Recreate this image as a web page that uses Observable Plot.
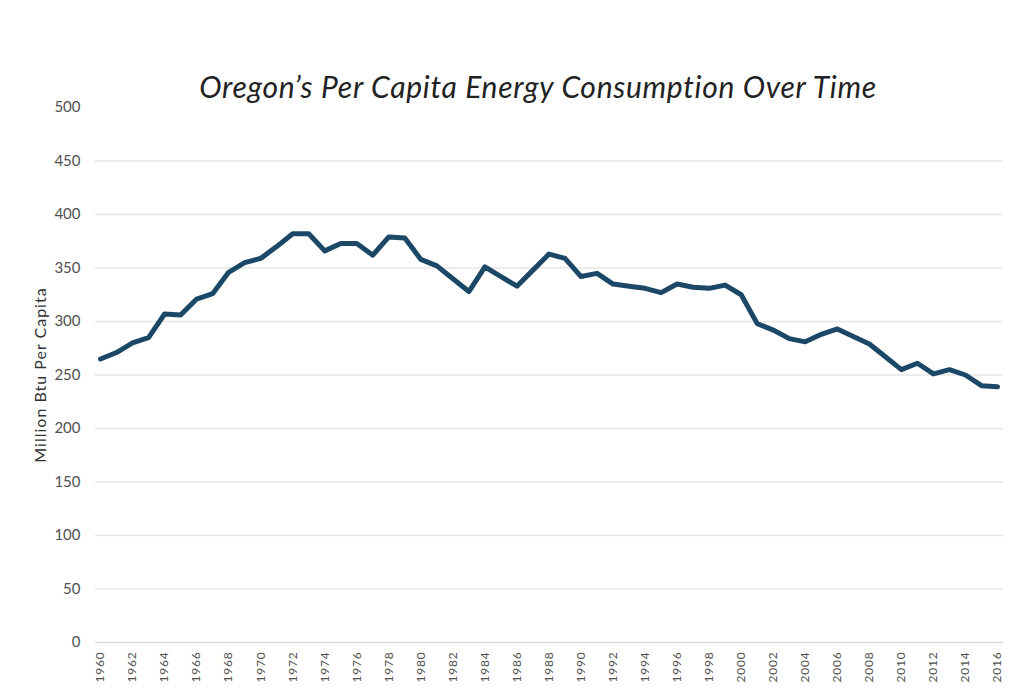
<!DOCTYPE html>
<html>
<head>
<meta charset="utf-8">
<script src="https://cdn.jsdelivr.net/npm/d3@7"></script>
<script src="https://cdn.jsdelivr.net/npm/@observablehq/plot@0.6"></script>
<style>
  html, body { margin: 0; padding: 0; background: #fff; }
  #wrap { position: relative; width: 1024px; height: 698px; }
  #title {
    position: absolute; left: 0; top: 68px; width: 1076px; text-align: center;
    font-family: Lato, "Open Sans", sans-serif; font-style: italic; font-size: 30px;
    line-height: 1.2; color: #222; letter-spacing: 0.7px;
  }
  svg { display: block; }
  .xt text { letter-spacing: 0.8px; }
  .yl text { letter-spacing: 1px; }
</style>
</head>
<body>
<div id="wrap">
  <div id="chart"></div>
  <div id="title">Oregon’s Per Capita Energy Consumption Over Time</div>
</div>
<script>
const years = [1960,1961,1962,1963,1964,1965,1966,1967,1968,1969,
  1970,1971,1972,1973,1974,1975,1976,1977,1978,1979,
  1980,1981,1982,1983,1984,1985,1986,1987,1988,1989,
  1990,1991,1992,1993,1994,1995,1996,1997,1998,1999,
  2000,2001,2002,2003,2004,2005,2006,2007,2008,2009,
  2010,2011,2012,2013,2014,2015,2016];
const btuPerCapita = [265,271,280,285,307,306,321,326,346,355,
  359,370,382,382,366,373,373,362,379,378,
  358,352,340,328,351,342,333,348,363,359,
  342,345,335,333,331,327,335,332,331,334,
  325,298,292,284,281,288,293,286,279,267,
  255,261,251,255,250,240,239];
const xTicks = [1960,1962,1964,1966,1968,1970,1972,1974,1976,1978,1980,1982,1984,1986,1988,
  1990,1992,1994,1996,1998,2000,2002,2004,2006,2008,2010,2012,2014,2016];
const yTicks = [0,50,100,150,200,250,300,350,400,450,500];
const gridValues = [50,100,150,200,250,300,350,400,450];
const yLabel = "Million Btu Per Capita";

const data = years.map((y, i) => ({year: y, value: btuPerCapita[i]}));

const chart = Plot.plot({
  width: 1024,
  height: 698,
  marginTop: 107,
  marginBottom: 56,
  marginLeft: 95,
  marginRight: 21,
  style: {fontFamily: "Lato, 'Open Sans', sans-serif", fontSize: "12px", color: "#555", background: "#fff"},
  x: {domain: [1960, 2016], insetLeft: 5, insetRight: 6},
  y: {domain: [0, 500]},
  marks: [
    Plot.ruleY(gridValues, {stroke: "#e6e6e6", strokeWidth: 1.5}),
    Plot.ruleY([0], {stroke: "#dcdcdc", strokeWidth: 1.5}),
    Plot.axisY({ticks: yTicks, tickSize: 0, tickPadding: 15, label: null, fill: "#505050", fontSize: 15}),
    Plot.axisX({ticks: xTicks, tickFormat: d => String(d), tickRotate: -90, tickSize: 0, tickPadding: 9, label: null, fill: "#505050", fontSize: 12, className: "xt"}),
    Plot.text([yLabel], {frameAnchor: "left", textAnchor: "middle", text: d => d, rotate: -90, dx: -55, fontSize: 16, fill: "#333", className: "yl"}),
    Plot.line(data, {x: "year", y: "value", stroke: "#1c4868", strokeWidth: 5, strokeLinejoin: "round", strokeLinecap: "round"})
  ]
});
document.getElementById("chart").appendChild(chart);
</script>
</body>
</html>
